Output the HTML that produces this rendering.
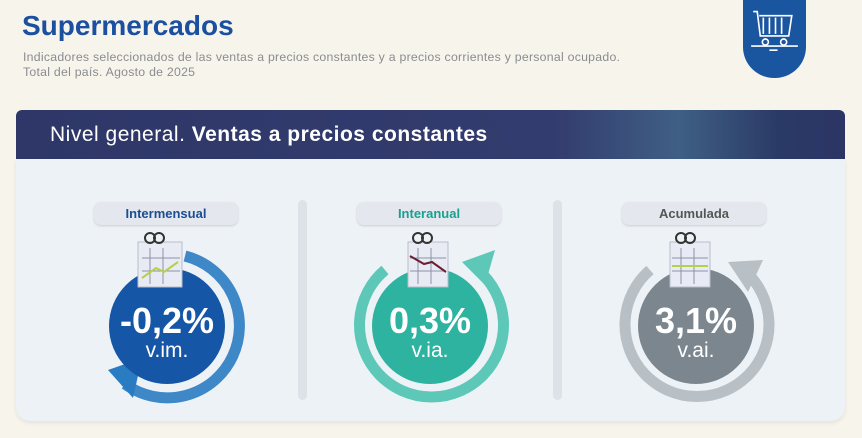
<!DOCTYPE html><html><head><meta charset="utf-8"><style>
body{margin:0;width:862px;height:438px;overflow:hidden;background:#f7f4ec;font-family:"Liberation Sans",sans-serif;position:relative}
.t{position:absolute;left:22px;top:10px;font-size:28px;font-weight:bold;color:#1b50a0}
.s{position:absolute;left:23px;top:50px;font-size:12.3px;letter-spacing:.25px;color:#8a8c90;line-height:15px}
.badge{position:absolute;left:743px;top:0;width:63px;height:78px;background:#1a56a0;border-radius:0 0 31px 31px}
.hdr{position:absolute;left:16px;top:110px;width:829px;height:49px;border-radius:6px 6px 0 0;background:linear-gradient(90deg,#2e3768 0%,#333c6e 65%,#3f5f85 80%,#2a3a66 92%,#2c3565 100%);color:#fff;font-size:21px;letter-spacing:.5px;line-height:49px;box-sizing:border-box;padding-left:34px}
.pan{position:absolute;left:16px;top:159px;width:829px;height:262px;background:#edf2f7;border-radius:0 0 14px 14px;box-shadow:0 2px 4px rgba(0,0,0,.08)}
.pill{position:absolute;top:202px;width:144px;height:23px;border-radius:7px;background:#e4e8ee;box-shadow:0 1px 2px rgba(0,0,0,.15);font-size:13px;font-weight:bold;text-align:center;line-height:23px}
.div{position:absolute;top:200px;width:9px;height:200px;border-radius:5px;background:#dde2e8}
.c{position:absolute;width:116px;height:116px;border-radius:50%;color:#fff;text-align:center;font-weight:bold}
.c b{display:block;font-size:36px;margin-top:34px;line-height:38px}
.c span{display:block;font-size:21px;font-weight:normal;line-height:22px}
</style></head><body>
<div class="t">Supermercados</div>
<div class="s">Indicadores seleccionados de las ventas a precios constantes y a precios corrientes y personal ocupado.<br>Total del país. Agosto de 2025</div>
<div class="badge"><svg width="63" height="78" viewBox="0 0 62 74" fill="none" stroke="#fff" stroke-width="1.6"><path d="M10 10h4l3 24h28l3-20H16"/><path d="M20 16v16M26 16v16M32 16v16M38 16v16"/><circle cx="22" cy="40" r="3"/><circle cx="40" cy="40" r="3"/><path d="M8 44h46M26 48h8"/></svg></div>
<div class="hdr">Nivel general. <b style="font-weight:600">Ventas a precios constantes</b></div>
<div class="pan"></div>
<div class="div" style="left:298px"></div><div class="div" style="left:553px"></div>
<div class="pill" style="left:94px;color:#1b4d92">Intermensual</div>
<div class="pill" style="left:357px;color:#1aa08f">Interanual</div>
<div class="pill" style="left:622px;color:#555">Acumulada</div>
<svg style="position:absolute;left:0;top:0" width="862" height="438">
<path d="M185 256 A72 72 0 1 1 125 384" fill="none" stroke="#2a7cc2" stroke-width="11" opacity=".9"/>
<path d="M108 370 L133 398 L142 358 Z" fill="#2a7cc2"/>
<path d="M478 270 A72 72 0 1 1 385 270" fill="none" stroke="#5ec8b8" stroke-width="11"/>
<path d="M462 262 L495 250 L485 285 Z" fill="#5ec8b8"/>
<path d="M744 270 A72 72 0 1 1 650 270" fill="none" stroke="#b8bfc5" stroke-width="11"/>
<path d="M728 262 L763 260 L748 292 Z" fill="#b8bfc5"/>
</svg>
<div class="c" style="left:109px;top:268px;background:#1556a6"><b>-0,2%</b><span>v.im.</span></div>
<div class="c" style="left:372px;top:268px;background:#2db3a0"><b>0,3%</b><span>v.ia.</span></div>
<div class="c" style="left:638px;top:268px;background:#7c868e"><b>3,1%</b><span>v.ai.</span></div>
<svg style="position:absolute;left:0;top:0" width="862" height="438">
<g fill="#e8ebf3" stroke="#b8bccb"><rect x="138" y="242" width="44" height="45"/><rect x="408" y="242" width="40" height="45"/><rect x="670" y="242" width="40" height="45"/></g>
<g stroke="#8a93a8" fill="none"><path d="M150 248v36M163 248v36M142 258h38M142 271h38"/><path d="M418 248v36M431 248v36M410 258h36M410 271h36"/><path d="M681 248v36M694 248v36M672 258h36M672 271h36"/></g>
<path d="M142 278l14-10 8 4 14-10" stroke="#b5d14a" stroke-width="2" fill="none"/>
<path d="M410 256l14 8 8-2 14 10" stroke="#6b2030" stroke-width="2" fill="none"/>
<path d="M672 266h36" stroke="#b5d14a" stroke-width="2"/>
<g fill="none" stroke="#333" stroke-width="2"><circle cx="150" cy="238" r="5"/><circle cx="159" cy="238" r="5"/><circle cx="418" cy="238" r="5"/><circle cx="427" cy="238" r="5"/><circle cx="681" cy="238" r="5"/><circle cx="690" cy="238" r="5"/></g>
</svg>
</body></html>
